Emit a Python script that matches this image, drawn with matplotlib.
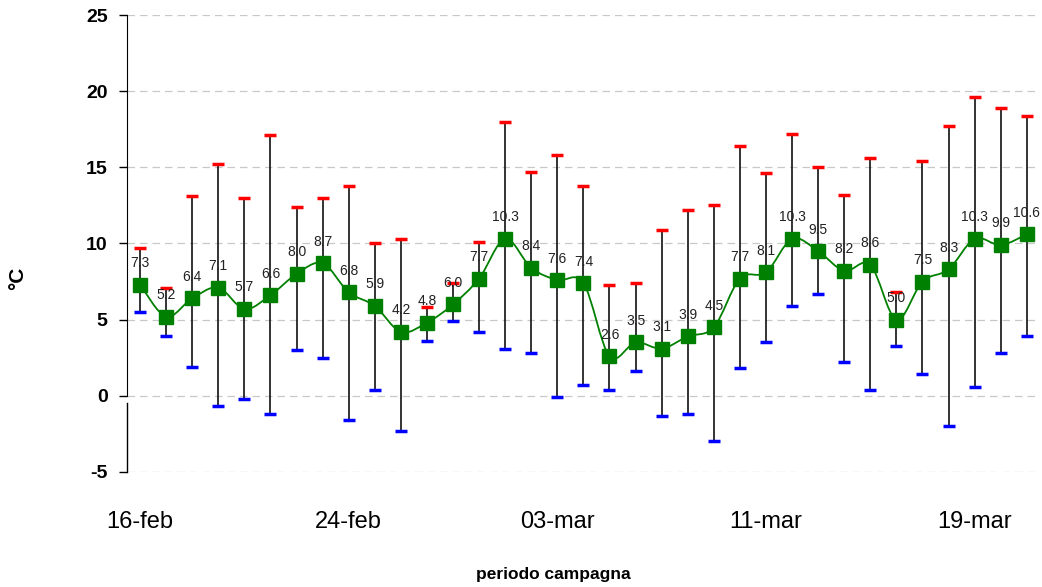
import matplotlib
matplotlib.use("Agg")
import matplotlib.pyplot as plt
from matplotlib.path import Path
from matplotlib.patches import PathPatch
import numpy as np

# daily values for the campaign (16-feb .. 21-mar)
mean_t = [7.3, 5.2, 6.4, 7.1, 5.7, 6.6, 8.0, 8.7, 6.8, 5.9, 4.2, 4.8, 6.0, 7.7,
          10.3, 8.4, 7.6, 7.4, 2.6, 3.5, 3.1, 3.9, 4.5, 7.7, 8.1, 10.3, 9.5,
          8.2, 8.6, 5.0, 7.5, 8.3, 10.3, 9.9, 10.6]
max_t = [9.7, 7.1, 13.1, 15.2, 13.0, 17.1, 12.4, 13.0, 13.8, 10.0, 10.3, 5.8,
         7.4, 10.1, 18.0, 14.7, 15.8, 13.8, 7.3, 7.4, 10.9, 12.2, 12.5, 16.4,
         14.6, 17.2, 15.0, 13.2, 15.6, 6.8, 15.4, 17.7, 19.6, 18.9, 18.4]
min_t = [5.5, 3.9, 1.9, -0.7, -0.2, -1.2, 3.0, 2.5, -1.6, 0.4, -2.3, 3.6, 4.9,
         4.2, 3.1, 2.8, -0.1, 0.7, 0.4, 1.6, -1.3, -1.2, -3.0, 1.8, 3.5, 5.9,
         6.7, 2.2, 0.4, 3.3, 1.4, -2.0, 0.6, 2.8, 3.9]
tick_idx = [0, 8, 16, 24, 32]
tick_labels = ["16-feb", "24-feb", "03-mar", "11-mar", "19-mar"]

x = np.arange(len(mean_t))
y = np.array(mean_t)

plt.rcParams['font.family'] = ['Liberation Sans', 'DejaVu Sans']

fig = plt.figure(figsize=(10.42, 5.87), dpi=100)
ax = fig.add_axes([0.1219, 0.196, 0.876, 0.7784])

# grid
for g in range(-5, 26, 5):
    ax.axhline(g, color="#c8c8c8", lw=0.9, ls=(0, (6, 4)), zorder=0)

# min/max bars
ax.vlines(x, min_t, max_t, color="#111111", lw=1.2, zorder=2)
ax.plot(x, max_t, "_", color="#ff0000", ms=8.5, mew=2.5, zorder=3, ls="none")
ax.plot(x, min_t, "_", color="#0000ff", ms=8.5, mew=2.5, zorder=3, ls="none")

# smoothed line (catmull-rom bezier through the means)
verts = [(x[0], y[0])]
codes = [Path.MOVETO]
n = len(x)
for i in range(n - 1):
    p0 = np.array([x[max(i - 1, 0)], y[max(i - 1, 0)]])
    p1 = np.array([x[i], y[i]])
    p2 = np.array([x[i + 1], y[i + 1]])
    p3 = np.array([x[min(i + 2, n - 1)], y[min(i + 2, n - 1)]])
    c1 = p1 + (p2 - p0) / 6.0
    c2 = p2 - (p3 - p1) / 6.0
    verts += [tuple(c1), tuple(c2), tuple(p2)]
    codes += [Path.CURVE4] * 3
ax.add_patch(PathPatch(Path(verts, codes), fill=False, edgecolor="#008000",
                       lw=1.3, zorder=4))
ax.plot(x, y, "s", color="#008000", ms=9.5, mec="#008000", zorder=5)

for xi, yi in zip(x, y):
    ax.annotate(f"{yi:.1f}", (xi, yi), xytext=(0, 15.5), textcoords="offset points",
                ha="center", va="center", fontsize=10, color="#222222", zorder=6)

ax.set_xlim(-0.5, 34.5)
ax.set_ylim(-5, 25)
ax.set_yticks(range(-5, 26, 5))
ax.set_yticklabels([str(v) for v in range(-5, 26, 5)], fontsize=14, fontweight="bold")
ax.set_xticks(tick_idx)
ax.set_xticklabels(tick_labels, fontsize=17)
ax.tick_params(axis="x", length=0, pad=28)
ax.tick_params(axis="y", length=6, width=1, direction="out", pad=8)

for s in ["top", "right", "bottom"]:
    ax.spines[s].set_visible(False)
ax.spines["left"].set_bounds(0, 25)
ax.plot([-0.5, -0.5], [-5, -0.45], color="black", lw=1, clip_on=False, zorder=6)

fig.text(18 / 1042, 1 - 278 / 587, "°C", rotation=90, fontsize=15, fontweight="bold",
         ha="center", va="center")
fig.text(553 / 1042, 1 - 575 / 587, "periodo campagna", fontsize=12.5,
         fontweight="bold", ha="center", va="center")

fig.savefig("out.png", dpi=100)
